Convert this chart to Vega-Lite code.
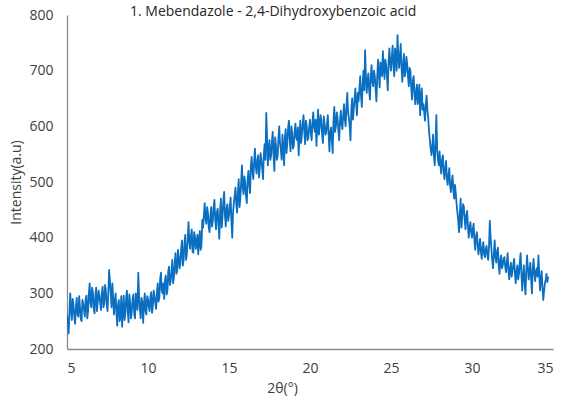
{
  "$schema": "https://vega.github.io/schema/vega-lite/v6.json",
  "width": 486,
  "height": 334,
  "autosize": {"type": "none"},
  "padding": {"left": 67, "top": 15, "right": 8, "bottom": 58},
  "background": "white",
  "title": {
    "text": "1. Mebendazole - 2,4-Dihydroxybenzoic acid",
    "anchor": "start",
    "frame": "group",
    "dx": 63,
    "offset": -11,
    "font": "Open Sans",
    "fontSize": 14,
    "fontWeight": "normal",
    "color": "#262626"
  },
  "data": {
    "values": [
      {"t": 5.0, "i": 262}, {"t": 5.05, "i": 250}, {"t": 5.1, "i": 228}, {"t": 5.15, "i": 265}, {"t": 5.2, "i": 300}, {"t": 5.25, "i": 270}, {"t": 5.3, "i": 252}, {"t": 5.35, "i": 290}, {"t": 5.4, "i": 280}, {"t": 5.45, "i": 258},
      {"t": 5.5, "i": 245}, {"t": 5.55, "i": 275}, {"t": 5.6, "i": 292}, {"t": 5.65, "i": 262}, {"t": 5.7, "i": 258}, {"t": 5.75, "i": 295}, {"t": 5.8, "i": 276}, {"t": 5.85, "i": 255}, {"t": 5.9, "i": 250}, {"t": 5.95, "i": 288},
      {"t": 6.0, "i": 282}, {"t": 6.05, "i": 270}, {"t": 6.1, "i": 258}, {"t": 6.15, "i": 290}, {"t": 6.2, "i": 296}, {"t": 6.25, "i": 255}, {"t": 6.3, "i": 268}, {"t": 6.35, "i": 300}, {"t": 6.4, "i": 318}, {"t": 6.45, "i": 282},
      {"t": 6.5, "i": 275}, {"t": 6.55, "i": 310}, {"t": 6.6, "i": 302}, {"t": 6.65, "i": 272}, {"t": 6.7, "i": 264}, {"t": 6.75, "i": 296}, {"t": 6.8, "i": 310}, {"t": 6.85, "i": 268}, {"t": 6.9, "i": 285}, {"t": 6.95, "i": 305},
      {"t": 7.0, "i": 296}, {"t": 7.05, "i": 282}, {"t": 7.1, "i": 270}, {"t": 7.15, "i": 300}, {"t": 7.2, "i": 312}, {"t": 7.25, "i": 275}, {"t": 7.3, "i": 282}, {"t": 7.35, "i": 315}, {"t": 7.4, "i": 305}, {"t": 7.45, "i": 280},
      {"t": 7.5, "i": 268}, {"t": 7.55, "i": 300}, {"t": 7.6, "i": 342}, {"t": 7.65, "i": 322}, {"t": 7.7, "i": 300}, {"t": 7.75, "i": 275}, {"t": 7.8, "i": 318}, {"t": 7.85, "i": 290}, {"t": 7.9, "i": 262}, {"t": 7.95, "i": 285},
      {"t": 8.0, "i": 300}, {"t": 8.05, "i": 265}, {"t": 8.1, "i": 242}, {"t": 8.15, "i": 280}, {"t": 8.2, "i": 288}, {"t": 8.25, "i": 250}, {"t": 8.3, "i": 258}, {"t": 8.35, "i": 295}, {"t": 8.4, "i": 240}, {"t": 8.45, "i": 270},
      {"t": 8.5, "i": 296}, {"t": 8.55, "i": 252}, {"t": 8.6, "i": 262}, {"t": 8.65, "i": 292}, {"t": 8.7, "i": 305}, {"t": 8.75, "i": 268}, {"t": 8.8, "i": 248}, {"t": 8.85, "i": 298}, {"t": 8.9, "i": 282}, {"t": 8.95, "i": 255},
      {"t": 9.0, "i": 268}, {"t": 9.05, "i": 290}, {"t": 9.1, "i": 298}, {"t": 9.15, "i": 262}, {"t": 9.2, "i": 255}, {"t": 9.25, "i": 300}, {"t": 9.3, "i": 286}, {"t": 9.35, "i": 270}, {"t": 9.4, "i": 337}, {"t": 9.45, "i": 295},
      {"t": 9.5, "i": 270}, {"t": 9.55, "i": 255}, {"t": 9.6, "i": 292}, {"t": 9.65, "i": 285}, {"t": 9.7, "i": 247}, {"t": 9.75, "i": 278}, {"t": 9.8, "i": 300}, {"t": 9.85, "i": 268}, {"t": 9.9, "i": 262}, {"t": 9.95, "i": 295},
      {"t": 10.0, "i": 290}, {"t": 10.05, "i": 275}, {"t": 10.1, "i": 268}, {"t": 10.15, "i": 295}, {"t": 10.2, "i": 302}, {"t": 10.25, "i": 265}, {"t": 10.3, "i": 278}, {"t": 10.35, "i": 305}, {"t": 10.4, "i": 296}, {"t": 10.45, "i": 282},
      {"t": 10.5, "i": 272}, {"t": 10.55, "i": 300}, {"t": 10.6, "i": 318}, {"t": 10.65, "i": 285}, {"t": 10.7, "i": 292}, {"t": 10.75, "i": 325}, {"t": 10.8, "i": 337}, {"t": 10.85, "i": 305}, {"t": 10.9, "i": 300}, {"t": 10.95, "i": 318},
      {"t": 11.0, "i": 290}, {"t": 11.05, "i": 325}, {"t": 11.1, "i": 332}, {"t": 11.15, "i": 298}, {"t": 11.2, "i": 305}, {"t": 11.25, "i": 340}, {"t": 11.3, "i": 348}, {"t": 11.35, "i": 315}, {"t": 11.4, "i": 322}, {"t": 11.45, "i": 338},
      {"t": 11.5, "i": 360}, {"t": 11.55, "i": 318}, {"t": 11.6, "i": 330}, {"t": 11.65, "i": 355}, {"t": 11.7, "i": 372}, {"t": 11.75, "i": 335}, {"t": 11.8, "i": 340}, {"t": 11.85, "i": 378}, {"t": 11.9, "i": 365}, {"t": 11.95, "i": 345},
      {"t": 12.0, "i": 355}, {"t": 12.05, "i": 380}, {"t": 12.1, "i": 395}, {"t": 12.15, "i": 350}, {"t": 12.2, "i": 360}, {"t": 12.25, "i": 390}, {"t": 12.3, "i": 405}, {"t": 12.35, "i": 360}, {"t": 12.4, "i": 372}, {"t": 12.45, "i": 395},
      {"t": 12.5, "i": 428}, {"t": 12.55, "i": 395}, {"t": 12.6, "i": 380}, {"t": 12.65, "i": 402}, {"t": 12.7, "i": 415}, {"t": 12.75, "i": 375}, {"t": 12.8, "i": 373}, {"t": 12.85, "i": 410}, {"t": 12.9, "i": 402}, {"t": 12.95, "i": 380},
      {"t": 13.0, "i": 392}, {"t": 13.05, "i": 405}, {"t": 13.1, "i": 370}, {"t": 13.15, "i": 395}, {"t": 13.2, "i": 412}, {"t": 13.25, "i": 378}, {"t": 13.3, "i": 385}, {"t": 13.35, "i": 432}, {"t": 13.4, "i": 418}, {"t": 13.45, "i": 440},
      {"t": 13.5, "i": 462}, {"t": 13.55, "i": 435}, {"t": 13.6, "i": 425}, {"t": 13.65, "i": 455}, {"t": 13.7, "i": 445}, {"t": 13.75, "i": 418}, {"t": 13.8, "i": 410}, {"t": 13.85, "i": 438}, {"t": 13.9, "i": 455}, {"t": 13.95, "i": 420},
      {"t": 14.0, "i": 430}, {"t": 14.05, "i": 455}, {"t": 14.1, "i": 468}, {"t": 14.15, "i": 432}, {"t": 14.2, "i": 415}, {"t": 14.25, "i": 445}, {"t": 14.3, "i": 452}, {"t": 14.35, "i": 425}, {"t": 14.4, "i": 398}, {"t": 14.45, "i": 448},
      {"t": 14.5, "i": 470}, {"t": 14.55, "i": 418}, {"t": 14.6, "i": 438}, {"t": 14.65, "i": 465}, {"t": 14.7, "i": 482}, {"t": 14.75, "i": 440}, {"t": 14.8, "i": 420}, {"t": 14.85, "i": 452}, {"t": 14.9, "i": 460}, {"t": 14.95, "i": 430},
      {"t": 15.0, "i": 440}, {"t": 15.05, "i": 455}, {"t": 15.1, "i": 472}, {"t": 15.15, "i": 430}, {"t": 15.2, "i": 400}, {"t": 15.25, "i": 445}, {"t": 15.3, "i": 462}, {"t": 15.35, "i": 475}, {"t": 15.4, "i": 490}, {"t": 15.45, "i": 460},
      {"t": 15.5, "i": 445}, {"t": 15.55, "i": 482}, {"t": 15.6, "i": 505}, {"t": 15.65, "i": 455}, {"t": 15.7, "i": 470}, {"t": 15.75, "i": 500}, {"t": 15.8, "i": 530}, {"t": 15.85, "i": 490}, {"t": 15.9, "i": 478}, {"t": 15.95, "i": 510},
      {"t": 16.0, "i": 498}, {"t": 16.05, "i": 475}, {"t": 16.1, "i": 462}, {"t": 16.15, "i": 505}, {"t": 16.2, "i": 520}, {"t": 16.25, "i": 495}, {"t": 16.3, "i": 480}, {"t": 16.35, "i": 530}, {"t": 16.4, "i": 545}, {"t": 16.45, "i": 518},
      {"t": 16.5, "i": 505}, {"t": 16.55, "i": 535}, {"t": 16.6, "i": 560}, {"t": 16.65, "i": 530}, {"t": 16.7, "i": 515}, {"t": 16.75, "i": 538}, {"t": 16.8, "i": 548}, {"t": 16.85, "i": 508}, {"t": 16.9, "i": 525}, {"t": 16.95, "i": 552},
      {"t": 17.0, "i": 540}, {"t": 17.05, "i": 525}, {"t": 17.1, "i": 505}, {"t": 17.15, "i": 550}, {"t": 17.2, "i": 568}, {"t": 17.25, "i": 540}, {"t": 17.3, "i": 624}, {"t": 17.35, "i": 580}, {"t": 17.4, "i": 530}, {"t": 17.45, "i": 560},
      {"t": 17.5, "i": 575}, {"t": 17.55, "i": 540}, {"t": 17.6, "i": 548}, {"t": 17.65, "i": 572}, {"t": 17.7, "i": 590}, {"t": 17.75, "i": 548}, {"t": 17.8, "i": 520}, {"t": 17.85, "i": 580}, {"t": 17.9, "i": 565}, {"t": 17.95, "i": 540},
      {"t": 18.0, "i": 545}, {"t": 18.05, "i": 578}, {"t": 18.1, "i": 600}, {"t": 18.15, "i": 570}, {"t": 18.2, "i": 558}, {"t": 18.25, "i": 540}, {"t": 18.3, "i": 585}, {"t": 18.35, "i": 562}, {"t": 18.4, "i": 530}, {"t": 18.45, "i": 580},
      {"t": 18.5, "i": 595}, {"t": 18.55, "i": 552}, {"t": 18.6, "i": 570}, {"t": 18.65, "i": 598}, {"t": 18.7, "i": 610}, {"t": 18.75, "i": 575}, {"t": 18.8, "i": 555}, {"t": 18.85, "i": 600}, {"t": 18.9, "i": 588}, {"t": 18.95, "i": 560},
      {"t": 19.0, "i": 565}, {"t": 19.05, "i": 590}, {"t": 19.1, "i": 605}, {"t": 19.15, "i": 580}, {"t": 19.2, "i": 575}, {"t": 19.25, "i": 598}, {"t": 19.3, "i": 548}, {"t": 19.35, "i": 585}, {"t": 19.4, "i": 610}, {"t": 19.45, "i": 570},
      {"t": 19.5, "i": 585}, {"t": 19.55, "i": 605}, {"t": 19.6, "i": 620}, {"t": 19.65, "i": 590}, {"t": 19.7, "i": 568}, {"t": 19.75, "i": 610}, {"t": 19.8, "i": 600}, {"t": 19.85, "i": 575}, {"t": 19.9, "i": 580}, {"t": 19.95, "i": 598},
      {"t": 20.0, "i": 612}, {"t": 20.05, "i": 590}, {"t": 20.1, "i": 575}, {"t": 20.15, "i": 605}, {"t": 20.2, "i": 625}, {"t": 20.25, "i": 600}, {"t": 20.3, "i": 590}, {"t": 20.35, "i": 612}, {"t": 20.4, "i": 565}, {"t": 20.45, "i": 600},
      {"t": 20.5, "i": 630}, {"t": 20.55, "i": 585}, {"t": 20.6, "i": 598}, {"t": 20.65, "i": 620}, {"t": 20.7, "i": 610}, {"t": 20.75, "i": 585}, {"t": 20.8, "i": 570}, {"t": 20.85, "i": 618}, {"t": 20.9, "i": 605}, {"t": 20.95, "i": 585},
      {"t": 21.0, "i": 588}, {"t": 21.05, "i": 605}, {"t": 21.1, "i": 620}, {"t": 21.15, "i": 585}, {"t": 21.2, "i": 555}, {"t": 21.25, "i": 590}, {"t": 21.3, "i": 598}, {"t": 21.35, "i": 575}, {"t": 21.4, "i": 552}, {"t": 21.45, "i": 610},
      {"t": 21.5, "i": 635}, {"t": 21.55, "i": 590}, {"t": 21.6, "i": 600}, {"t": 21.65, "i": 625}, {"t": 21.7, "i": 615}, {"t": 21.75, "i": 595}, {"t": 21.8, "i": 575}, {"t": 21.85, "i": 608}, {"t": 21.9, "i": 628}, {"t": 21.95, "i": 605},
      {"t": 22.0, "i": 595}, {"t": 22.05, "i": 620}, {"t": 22.1, "i": 640}, {"t": 22.15, "i": 612}, {"t": 22.2, "i": 600}, {"t": 22.25, "i": 635}, {"t": 22.3, "i": 660}, {"t": 22.35, "i": 625}, {"t": 22.4, "i": 615}, {"t": 22.45, "i": 600},
      {"t": 22.5, "i": 575}, {"t": 22.55, "i": 630}, {"t": 22.6, "i": 650}, {"t": 22.65, "i": 612}, {"t": 22.7, "i": 630}, {"t": 22.75, "i": 650}, {"t": 22.8, "i": 668}, {"t": 22.85, "i": 640}, {"t": 22.9, "i": 620}, {"t": 22.95, "i": 660},
      {"t": 23.0, "i": 645}, {"t": 23.05, "i": 668}, {"t": 23.1, "i": 690}, {"t": 23.15, "i": 655}, {"t": 23.2, "i": 635}, {"t": 23.25, "i": 675}, {"t": 23.3, "i": 700}, {"t": 23.35, "i": 665}, {"t": 23.4, "i": 737}, {"t": 23.45, "i": 690},
      {"t": 23.5, "i": 660}, {"t": 23.55, "i": 682}, {"t": 23.6, "i": 695}, {"t": 23.65, "i": 665}, {"t": 23.7, "i": 648}, {"t": 23.75, "i": 690}, {"t": 23.8, "i": 710}, {"t": 23.85, "i": 680}, {"t": 23.9, "i": 672}, {"t": 23.95, "i": 700},
      {"t": 24.0, "i": 690}, {"t": 24.05, "i": 668}, {"t": 24.1, "i": 645}, {"t": 24.15, "i": 690}, {"t": 24.2, "i": 720}, {"t": 24.25, "i": 695}, {"t": 24.3, "i": 670}, {"t": 24.35, "i": 715}, {"t": 24.4, "i": 705}, {"t": 24.45, "i": 690},
      {"t": 24.5, "i": 735}, {"t": 24.55, "i": 705}, {"t": 24.6, "i": 685}, {"t": 24.65, "i": 720}, {"t": 24.7, "i": 710}, {"t": 24.75, "i": 690}, {"t": 24.8, "i": 665}, {"t": 24.85, "i": 715}, {"t": 24.9, "i": 740}, {"t": 24.95, "i": 712},
      {"t": 25.0, "i": 700}, {"t": 25.05, "i": 725}, {"t": 25.1, "i": 745}, {"t": 25.15, "i": 710}, {"t": 25.2, "i": 690}, {"t": 25.25, "i": 740}, {"t": 25.3, "i": 725}, {"t": 25.35, "i": 700}, {"t": 25.4, "i": 764}, {"t": 25.45, "i": 730},
      {"t": 25.5, "i": 705}, {"t": 25.55, "i": 725}, {"t": 25.6, "i": 748}, {"t": 25.65, "i": 705}, {"t": 25.7, "i": 680}, {"t": 25.75, "i": 712}, {"t": 25.8, "i": 730}, {"t": 25.85, "i": 690}, {"t": 25.9, "i": 698}, {"t": 25.95, "i": 725},
      {"t": 26.0, "i": 712}, {"t": 26.05, "i": 690}, {"t": 26.1, "i": 672}, {"t": 26.15, "i": 705}, {"t": 26.2, "i": 700}, {"t": 26.25, "i": 668}, {"t": 26.3, "i": 648}, {"t": 26.35, "i": 682}, {"t": 26.4, "i": 690}, {"t": 26.45, "i": 660},
      {"t": 26.5, "i": 640}, {"t": 26.55, "i": 662}, {"t": 26.6, "i": 675}, {"t": 26.65, "i": 640}, {"t": 26.7, "i": 655}, {"t": 26.75, "i": 675}, {"t": 26.8, "i": 620}, {"t": 26.85, "i": 650}, {"t": 26.9, "i": 668}, {"t": 26.95, "i": 630},
      {"t": 27.0, "i": 640}, {"t": 27.05, "i": 625}, {"t": 27.1, "i": 610}, {"t": 27.15, "i": 640}, {"t": 27.2, "i": 655}, {"t": 27.25, "i": 628}, {"t": 27.3, "i": 615}, {"t": 27.35, "i": 590}, {"t": 27.4, "i": 575}, {"t": 27.45, "i": 560},
      {"t": 27.5, "i": 548}, {"t": 27.55, "i": 565}, {"t": 27.6, "i": 585}, {"t": 27.65, "i": 545}, {"t": 27.7, "i": 530}, {"t": 27.75, "i": 570}, {"t": 27.8, "i": 620}, {"t": 27.85, "i": 558}, {"t": 27.9, "i": 540}, {"t": 27.95, "i": 530},
      {"t": 28.0, "i": 555}, {"t": 28.05, "i": 530}, {"t": 28.1, "i": 515}, {"t": 28.15, "i": 540}, {"t": 28.2, "i": 548}, {"t": 28.25, "i": 520}, {"t": 28.3, "i": 505}, {"t": 28.35, "i": 525}, {"t": 28.4, "i": 538}, {"t": 28.45, "i": 505},
      {"t": 28.5, "i": 495}, {"t": 28.55, "i": 512}, {"t": 28.6, "i": 525}, {"t": 28.65, "i": 492}, {"t": 28.7, "i": 482}, {"t": 28.75, "i": 500}, {"t": 28.8, "i": 512}, {"t": 28.85, "i": 485}, {"t": 28.9, "i": 470}, {"t": 28.95, "i": 495},
      {"t": 29.0, "i": 480}, {"t": 29.05, "i": 460}, {"t": 29.1, "i": 445}, {"t": 29.15, "i": 430}, {"t": 29.2, "i": 410}, {"t": 29.25, "i": 445}, {"t": 29.3, "i": 470}, {"t": 29.35, "i": 418}, {"t": 29.4, "i": 438}, {"t": 29.45, "i": 460},
      {"t": 29.5, "i": 455}, {"t": 29.55, "i": 432}, {"t": 29.6, "i": 415}, {"t": 29.65, "i": 440}, {"t": 29.7, "i": 448}, {"t": 29.75, "i": 420}, {"t": 29.8, "i": 400}, {"t": 29.85, "i": 418}, {"t": 29.9, "i": 428}, {"t": 29.95, "i": 410},
      {"t": 30.0, "i": 400}, {"t": 30.05, "i": 415}, {"t": 30.1, "i": 425}, {"t": 30.15, "i": 395}, {"t": 30.2, "i": 378}, {"t": 30.25, "i": 402}, {"t": 30.3, "i": 410}, {"t": 30.35, "i": 388}, {"t": 30.4, "i": 370}, {"t": 30.45, "i": 385},
      {"t": 30.5, "i": 398}, {"t": 30.55, "i": 375}, {"t": 30.6, "i": 362}, {"t": 30.65, "i": 382}, {"t": 30.7, "i": 392}, {"t": 30.75, "i": 370}, {"t": 30.8, "i": 365}, {"t": 30.85, "i": 380}, {"t": 30.9, "i": 385}, {"t": 30.95, "i": 368},
      {"t": 31.0, "i": 360}, {"t": 31.05, "i": 385}, {"t": 31.1, "i": 430}, {"t": 31.15, "i": 400}, {"t": 31.2, "i": 378}, {"t": 31.25, "i": 358}, {"t": 31.3, "i": 345}, {"t": 31.35, "i": 372}, {"t": 31.4, "i": 395}, {"t": 31.45, "i": 365},
      {"t": 31.5, "i": 355}, {"t": 31.55, "i": 375}, {"t": 31.6, "i": 382}, {"t": 31.65, "i": 350}, {"t": 31.7, "i": 335}, {"t": 31.75, "i": 360}, {"t": 31.8, "i": 368}, {"t": 31.85, "i": 345}, {"t": 31.9, "i": 350}, {"t": 31.95, "i": 362},
      {"t": 32.0, "i": 365}, {"t": 32.05, "i": 348}, {"t": 32.1, "i": 338}, {"t": 32.15, "i": 355}, {"t": 32.2, "i": 372}, {"t": 32.25, "i": 340}, {"t": 32.3, "i": 325}, {"t": 32.35, "i": 345}, {"t": 32.4, "i": 355}, {"t": 32.45, "i": 330},
      {"t": 32.5, "i": 340}, {"t": 32.55, "i": 352}, {"t": 32.6, "i": 362}, {"t": 32.65, "i": 335}, {"t": 32.7, "i": 318}, {"t": 32.75, "i": 340}, {"t": 32.8, "i": 350}, {"t": 32.85, "i": 325}, {"t": 32.9, "i": 335}, {"t": 32.95, "i": 355},
      {"t": 33.0, "i": 372}, {"t": 33.05, "i": 335}, {"t": 33.1, "i": 305}, {"t": 33.15, "i": 330}, {"t": 33.2, "i": 350}, {"t": 33.25, "i": 320}, {"t": 33.3, "i": 298}, {"t": 33.35, "i": 340}, {"t": 33.4, "i": 368}, {"t": 33.45, "i": 345},
      {"t": 33.5, "i": 325}, {"t": 33.55, "i": 340}, {"t": 33.6, "i": 355}, {"t": 33.65, "i": 325}, {"t": 33.7, "i": 300}, {"t": 33.75, "i": 345}, {"t": 33.8, "i": 362}, {"t": 33.85, "i": 335}, {"t": 33.9, "i": 322}, {"t": 33.95, "i": 340},
      {"t": 34.0, "i": 345}, {"t": 34.05, "i": 330}, {"t": 34.1, "i": 368}, {"t": 34.15, "i": 335}, {"t": 34.2, "i": 305}, {"t": 34.25, "i": 325}, {"t": 34.3, "i": 340}, {"t": 34.35, "i": 310}, {"t": 34.4, "i": 288}, {"t": 34.45, "i": 305},
      {"t": 34.5, "i": 318}, {"t": 34.55, "i": 325}, {"t": 34.6, "i": 335}, {"t": 34.65, "i": 320}, {"t": 34.7, "i": 330}
    ]
  },
  "mark": {"type": "line", "color": "#0b6fc1", "strokeWidth": 1.8, "strokeJoin": "round", "clip": true},
  "encoding": {
    "x": {
      "field": "t",
      "type": "quantitative",
      "scale": {"domain": [5, 35], "nice": false, "zero": false},
      "axis": {
        "values": [5, 10, 15, 20, 25, 30, 35],
        "title": "2θ(°)",
        "grid": false,
        "ticks": false,
        "domainColor": "#8c8c8c",
        "domainWidth": 1.3,
        "labelFont": "Open Sans",
        "labelFontSize": 14,
        "labelColor": "#404040",
        "labelPadding": 12,
        "titleFont": "Open Sans",
        "titleFontSize": 14,
        "titleFontWeight": "normal",
        "titleColor": "#404040",
        "titleX": 215,
        "titleY": 39,
        "titleBaseline": "middle"
      }
    },
    "y": {
      "field": "i",
      "type": "quantitative",
      "scale": {"domain": [200, 800], "nice": false, "zero": false},
      "axis": {
        "values": [200, 300, 400, 500, 600, 700, 800],
        "title": "Intensity(a.u)",
        "grid": false,
        "ticks": false,
        "domainColor": "#8c8c8c",
        "domainWidth": 1.3,
        "labelFont": "Open Sans",
        "labelFontSize": 14,
        "labelColor": "#404040",
        "labelPadding": 14,
        "titleFont": "Open Sans",
        "titleFontSize": 14,
        "titleFontWeight": "normal",
        "titleColor": "#404040",
        "titleX": -51,
        "titleY": 167,
        "titleBaseline": "middle",
        "titleAlign": "center",
        "titleAngle": -90
      }
    }
  },
  "config": {"view": {"stroke": null}}
}
